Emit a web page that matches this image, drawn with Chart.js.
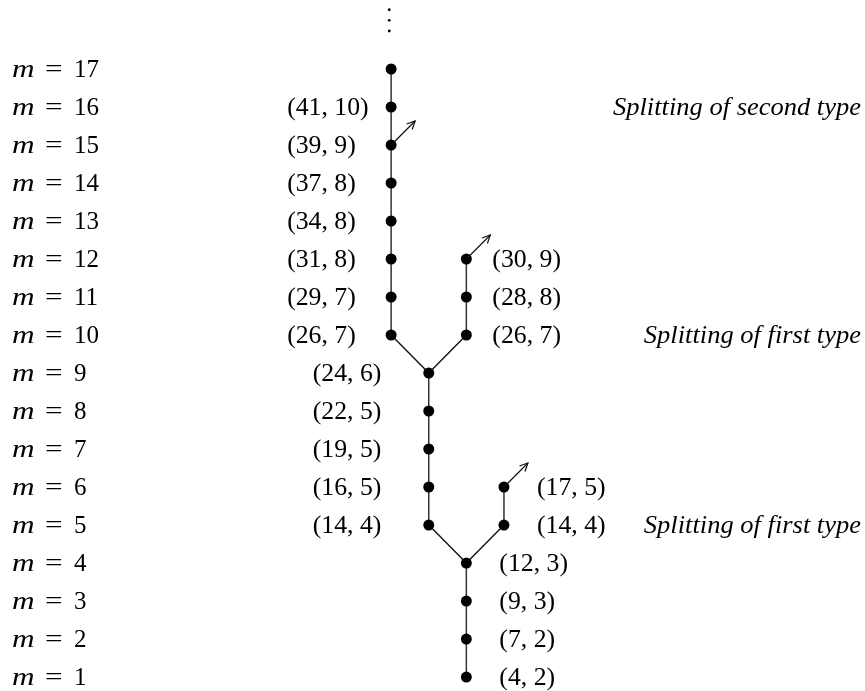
<!DOCTYPE html>
<html>
<head>
<meta charset="utf-8">
<script src="https://cdn.jsdelivr.net/npm/chart.js@4.4.0/dist/chart.umd.min.js"></script>
<style>
  html, body { margin: 0; padding: 0; background: #fff; }
  #wrap { width: 865px; height: 691px; }
</style>
</head>
<body>
<div id="wrap"><canvas id="tree"></canvas></div>
<script>
// levels m = 1..17
const rows = [1, 2, 3, 4, 5, 6, 7, 8, 9, 10, 11, 12, 13, 14, 15, 16, 17];

// branches of the tree: column, first row, last row
const branchCols = [2, 1, 3, 0, 2];
const branchFrom = [1, 5, 5, 10, 10];
const branchTo   = [4, 9, 6, 17, 12];

// splittings: parent branch -> child branch
const splitParent = [0, 0, 1, 1];
const splitChild  = [1, 2, 3, 4];

// arrows leaving a branch at a given row
const arrowBranch = [2, 3, 4];
const arrowRow    = [6, 15, 12];

// labels left of the tree
const leftRows   = [5, 6, 7, 8, 9, 10, 11, 12, 13, 14, 15, 16];
const leftLabels = ['(14, 4)', '(16, 5)', '(19, 5)', '(22, 5)', '(24, 6)', '(26, 7)',
                    '(29, 7)', '(31, 8)', '(34, 8)', '(37, 8)', '(39, 9)', '(41, 10)'];

// labels right of the tree
const rightRows   = [1, 2, 3, 4, 5, 6, 10, 11, 12];
const rightLabels = ['(4, 2)', '(7, 2)', '(9, 3)', '(12, 3)', '(14, 4)', '(17, 5)',
                     '(26, 7)', '(28, 8)', '(30, 9)'];

// remarks at the far right
const noteRows  = [16, 10, 5];
const noteTexts = ['Splitting of second type', 'Splitting of first type', 'Splitting of first type'];

// column of the branch that holds a row, leftmost or rightmost
function colAt(m, pickMax) {
    let best = null;
    branchCols.forEach((c, i) => {
        if (m >= branchFrom[i] && m <= branchTo[i]) {
            if (best === null || (pickMax ? c > best : c < best)) best = c;
        }
    });
    return best;
}

const datasets = [];

// vertical branches with their nodes
branchCols.forEach((c, i) => {
    const pts = rows.filter(m => m >= branchFrom[i] && m <= branchTo[i]).map(m => ({ x: c, y: m }));
    datasets.push({
        data: pts,
        showLine: true,
        borderColor: '#333',
        borderWidth: 1.5,
        pointRadius: 5.5,
        pointBackgroundColor: '#000',
        pointBorderWidth: 0
    });
});

// diagonal edges of the splittings
splitParent.forEach((p, k) => {
    const ch = splitChild[k];
    datasets.push({
        data: [{ x: branchCols[p], y: branchTo[p] }, { x: branchCols[ch], y: branchFrom[ch] }],
        showLine: true,
        borderColor: '#111',
        borderWidth: 1.4,
        pointRadius: 0
    });
});

// vertical ellipsis above the top node
datasets.push({
    data: [{ x: -0.05, y: 18.0 }, { x: -0.05, y: 18.28 }, { x: -0.05, y: 18.56 }],
    showLine: false,
    pointRadius: 1.4,
    pointBackgroundColor: '#000',
    pointBorderWidth: 0
});

// Computer Modern is wider than Times, so stretch a little
const FONT = '25px "Liberation Serif"';
const IFONT = 'italic 25px "Liberation Serif"';

function wideText(ctx, text, x, y, font, align, sx) {
    ctx.save();
    ctx.font = font;
    const w = ctx.measureText(text).width * sx;
    const left = align === 'right' ? x - w : x;
    ctx.translate(left, y);
    ctx.scale(sx, 1);
    ctx.textAlign = 'left';
    ctx.textBaseline = 'middle';
    ctx.fillText(text, 0, 0);
    ctx.restore();
}

const treeText = {
    id: 'treeText',
    afterDatasetsDraw(chart) {
        const { ctx, scales: { x, y } } = chart;
        ctx.save();
        ctx.fillStyle = '#000';
        ctx.strokeStyle = '#111';
        ctx.lineWidth = 1.2;

        // arrows
        arrowBranch.forEach((b, k) => {
            const px = x.getPixelForValue(branchCols[b]);
            const py = y.getPixelForValue(arrowRow[k]);
            const tx = px + 24, ty = py - 24;
            ctx.beginPath();
            ctx.moveTo(px, py);
            ctx.lineTo(tx, ty);
            ctx.stroke();
            const a = Math.atan2(ty - py, tx - px);
            ctx.beginPath();
            ctx.moveTo(tx - 9 * Math.cos(a - 0.45), ty - 9 * Math.sin(a - 0.45));
            ctx.lineTo(tx, ty);
            ctx.lineTo(tx - 9 * Math.cos(a + 0.45), ty - 9 * Math.sin(a + 0.45));
            ctx.stroke();
        });

        // m = ... column
        rows.forEach(m => {
            const py = y.getPixelForValue(m) + 1;
            wideText(ctx, 'm', 12, py, IFONT, 'left', 1.25);
            wideText(ctx, '=', 45, py, FONT, 'left', 1.25);
            wideText(ctx, String(m), 74, py, FONT, 'left', 1.0);
        });

        // left labels
        leftRows.forEach((m, k) => {
            const c = colAt(m, false);
            const gap = c === 0 ? 104 : 116;
            wideText(ctx, leftLabels[k], x.getPixelForValue(c) - gap, y.getPixelForValue(m) + 1, FONT, 'left', 1.03);
        });

        // right labels
        rightRows.forEach((m, k) => {
            const c = colAt(m, true);
            const gap = m >= 10 ? 26 : 33;
            wideText(ctx, rightLabels[k], x.getPixelForValue(c) + gap, y.getPixelForValue(m) + 1, FONT, 'left', 1.03);
        });

        // remarks
        noteRows.forEach((m, k) => {
            wideText(ctx, noteTexts[k], chart.width - 4, y.getPixelForValue(m) + 1, IFONT, 'right', 1.06);
        });
        ctx.restore();
    }
};

new Chart(document.getElementById('tree'), {
    type: 'scatter',
    data: { datasets },
    options: {
        responsive: true,
        maintainAspectRatio: false,
        animation: false,
        layout: { padding: 0, autoPadding: false },
        plugins: { legend: { display: false }, tooltip: { enabled: false } },
        scales: {
            x: { type: 'linear', display: false, min: -10.4, max: 12.6 },
            y: { type: 'linear', display: false, min: 0.632, max: 18.816 }
        }
    },
    plugins: [treeText]
});
</script>
</body>
</html>
